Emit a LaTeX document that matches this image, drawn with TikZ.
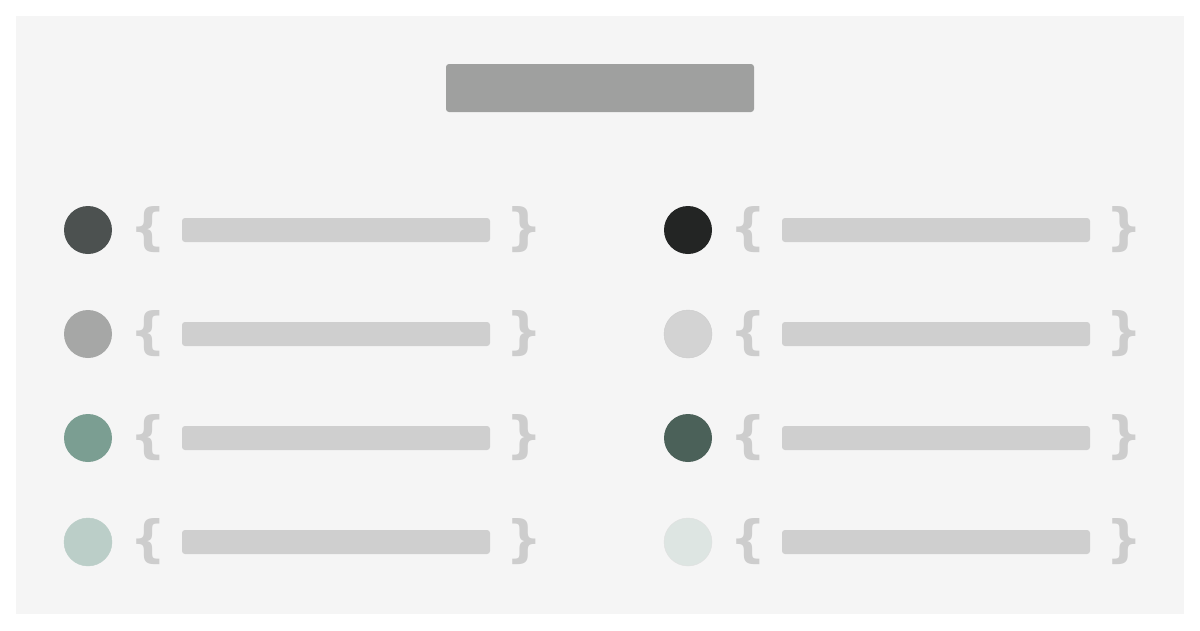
\documentclass[tikz,border=0pt]{standalone}
\usepackage{fontspec}
\newfontfamily\bracefont{DejaVu Sans}[BoldFont={DejaVu Sans Bold}]
\usepackage{tikz}

\definecolor{panelgray}{HTML}{F5F5F5}
\definecolor{titlegray}{HTML}{9FA09F}
\definecolor{bargray}{HTML}{CFCFCF}
\definecolor{bracegray}{HTML}{CDCDCD}
\definecolor{dotA}{HTML}{4C5150}
\definecolor{dotB}{HTML}{A6A7A6}
\definecolor{dotC}{HTML}{7B9E92}
\definecolor{dotD}{HTML}{BBCEC8}
\definecolor{dotE}{HTML}{232524}
\definecolor{dotF}{HTML}{D3D3D3}
\definecolor{dotG}{HTML}{4B6159}
\definecolor{dotH}{HTML}{DDE5E2}

\begin{document}
\begin{tikzpicture}[x=1pt,y=-1pt,
  dot/.style={circle,minimum size=48pt,inner sep=0pt,outer sep=0pt},
  lightdot/.style={dot,draw=black!20,line width=0.4pt},
  bar/.style={rectangle,rounded corners=3pt,fill=bargray,minimum width=308pt,minimum height=24pt,inner sep=0pt},
  brace/.style={inner sep=0pt,outer sep=0pt,text=bracegray,font=\bracefont\bfseries\fontsize{50}{50}\selectfont}]

\useasboundingbox (0,0) rectangle (1200,630);
\fill[white] (0,0) rectangle (1200,630);
\fill[panelgray] (16,16) rectangle (1184,614);

% title
\node[rectangle,rounded corners=3pt,fill=titlegray,minimum width=308pt,minimum height=48pt,inner sep=0pt] (title) at (600,88) {};

% left column
\node[dot,fill=dotA] (dotA) at (88,230) {};
\node[brace] (openA) at (148,230) {\{};
\node[bar] (barA) at (336,230) {};
\node[brace] (closeA) at (524,230) {\}};

\node[dot,fill=dotB] (dotB) at (88,334) {};
\node[brace] (openB) at (148,334) {\{};
\node[bar] (barB) at (336,334) {};
\node[brace] (closeB) at (524,334) {\}};

\node[dot,fill=dotC] (dotC) at (88,438) {};
\node[brace] (openC) at (148,438) {\{};
\node[bar] (barC) at (336,438) {};
\node[brace] (closeC) at (524,438) {\}};

\node[lightdot,fill=dotD,draw=dotD] (dotD) at (88,542) {};
\node[brace] (openD) at (148,542) {\{};
\node[bar] (barD) at (336,542) {};
\node[brace] (closeD) at (524,542) {\}};

% right column
\node[dot,fill=dotE] (dotE) at (688,230) {};
\node[brace] (openE) at (748,230) {\{};
\node[bar] (barE) at (936,230) {};
\node[brace] (closeE) at (1124,230) {\}};

\node[lightdot,fill=dotF] (dotF) at (688,334) {};
\node[brace] (openF) at (748,334) {\{};
\node[bar] (barF) at (936,334) {};
\node[brace] (closeF) at (1124,334) {\}};

\node[dot,fill=dotG] (dotG) at (688,438) {};
\node[brace] (openG) at (748,438) {\{};
\node[bar] (barG) at (936,438) {};
\node[brace] (closeG) at (1124,438) {\}};

\node[lightdot,fill=dotH,draw=black!12] (dotH) at (688,542) {};
\node[brace] (openH) at (748,542) {\{};
\node[bar] (barH) at (936,542) {};
\node[brace] (closeH) at (1124,542) {\}};

\end{tikzpicture}
\end{document}
